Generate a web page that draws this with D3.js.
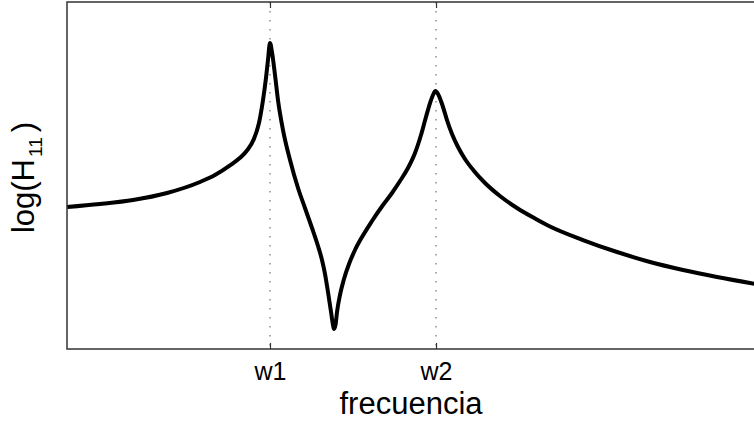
<!DOCTYPE html>
<html>
<head>
<meta charset="utf-8">
<script src="https://cdn.jsdelivr.net/npm/d3@7"></script>
<style>
  html, body { margin: 0; padding: 0; background: #fff; }
  svg { display: block; font-family: "Liberation Sans", Arial, Helvetica, sans-serif; }
</style>
</head>
<body>
<svg id="chart" width="754" height="424"></svg>
<script>
// ---- data ----
const freq = [0, 4.79, 9.58, 14.51, 19.30, 21.48, 23.66, 25.11, 26.12, 27.14, 27.87, 28.45, 28.88, 29.17, 29.46,
  29.75, 30.19, 30.62, 31.35, 32.37, 33.53, 34.54, 35.56, 36.43, 37.01, 37.45, 37.88, 38.32, 38.61, 38.75,
  38.97, 39.19, 39.62, 40.20, 40.93, 41.80, 42.82, 44.27, 45.86, 47.17, 48.33, 49.49, 50.51, 51.38, 52.10,
  52.69, 53.12, 53.48, 53.85, 54.43, 55.15, 55.88, 56.75, 57.76, 59.07, 60.67, 62.84, 65.31, 67.92, 70.10,
  74.89, 79.83, 84.62, 89.41, 94.34, 100];
const logH11 = [40.92, 41.79, 42.94, 44.96, 48.13, 50.14, 52.90, 55.10, 57.20, 60.60, 65.20, 71.76, 78.10, 83.29, 88.18,
  85.59, 78.96, 71.76, 63.11, 54.47, 46.40, 40.63, 34.87, 29.68, 25.65, 21.61, 16.43, 10.66, 6.92, 5.76,
  6.92, 10.66, 15.56, 20.17, 24.50, 28.53, 32.28, 36.89, 41.50, 44.96, 48.41, 52.16, 56.48, 61.67, 66.86,
  70.89, 73.20, 74.35, 73.49, 70.61, 65.99, 61.96, 58.21, 54.76, 51.30, 47.84, 44.09, 40.63, 37.61, 35.30,
  31.41, 27.95, 25.07, 22.77, 20.75, 18.73];
const tickValues = [29.46, 53.56];
const tickLabels = ["w1", "w2"];
const xTitle = "frecuencia";

// ---- layout ----
const svg = d3.select("#chart");
const mLeft = 67, mRight = 756, mTop = 2, mBottom = 349;

const x = d3.scaleLinear().domain([0, 100]).range([mLeft, mRight]);
const y = d3.scaleLinear().domain([0, 100]).range([mBottom, mTop]);

// dotted grid lines at resonance frequencies
svg.append("g").selectAll("line").data(tickValues).join("line")
  .attr("x1", d => x(d)).attr("x2", d => x(d))
  .attr("y1", mTop).attr("y2", mBottom)
  .attr("stroke", "#555").attr("stroke-width", 1)
  .attr("stroke-dasharray", "1.5,7.5");

// curve
const pts = freq.map((f, i) => [f, logH11[i]]);
svg.append("path")
  .datum(pts)
  .attr("fill", "none")
  .attr("stroke", "#000")
  .attr("stroke-width", 4)
  .attr("stroke-linejoin", "round")
  .attr("d", d3.line().x(d => x(d[0])).y(d => y(d[1])).curve(d3.curveMonotoneX));

// box
svg.append("rect")
  .attr("x", mLeft).attr("y", mTop)
  .attr("width", mRight - mLeft).attr("height", mBottom - mTop)
  .attr("fill", "none").attr("stroke", "#333").attr("stroke-width", 1.5);

// bottom axis (ticks inward, labels below)
const xAxis = d3.axisBottom(x).tickValues(tickValues)
  .tickFormat((d, i) => tickLabels[i]).tickSizeInner(-6).tickSizeOuter(0).tickPadding(13);
const gx = svg.append("g").attr("transform", `translate(0,${mBottom})`).call(xAxis);
gx.select(".domain").remove();
gx.selectAll(".tick line").attr("stroke", "#333").attr("stroke-width", 1.2);
gx.selectAll(".tick text").attr("fill", "#000").attr("font-size", 25)
  .attr("font-family", "Liberation Sans, Arial, sans-serif");

// top ticks (inward)
const xTop = d3.axisTop(x).tickValues(tickValues).tickFormat("").tickSizeInner(-6).tickSizeOuter(0);
const gt = svg.append("g").attr("transform", `translate(0,${mTop})`).call(xTop);
gt.select(".domain").remove();
gt.selectAll(".tick line").attr("stroke", "#333").attr("stroke-width", 1.2);

// x title
svg.append("text")
  .attr("x", 411)
  .attr("y", 414)
  .attr("text-anchor", "middle")
  .attr("font-size", 31)
  .attr("fill", "#000")
  .text(xTitle);

// y title: log(H_11)
const yt = svg.append("text")
  .attr("transform", `translate(34,${(mTop + mBottom) / 2 + 2}) rotate(-90)`)
  .attr("text-anchor", "middle")
  .attr("font-size", 31)
  .attr("fill", "#000");
yt.append("tspan").text("log(H");
yt.append("tspan").attr("font-size", 19).attr("dy", 8).attr("dx", 2).text("11");
yt.append("tspan").attr("dy", -8).attr("dx", 5).text(")");
</script>
</body>
</html>
